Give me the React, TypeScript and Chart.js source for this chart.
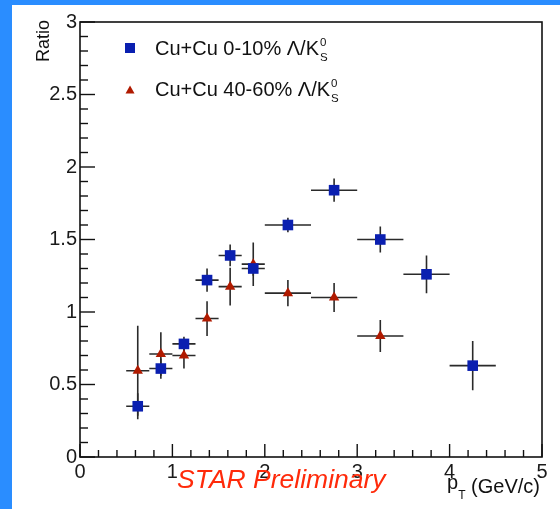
import React, { useEffect, useRef } from "react";
import { Chart, registerables } from "chart.js";

Chart.register(...registerables);

// ---- data ----
const ptCentral = [0.625, 0.875, 1.125, 1.375, 1.625, 1.875, 2.25, 2.75, 3.25, 3.75, 4.25];
const ptErrCentral = [0.125, 0.125, 0.125, 0.125, 0.125, 0.125, 0.25, 0.25, 0.25, 0.25, 0.25];
const ratioCentral = [0.35, 0.61, 0.78, 1.22, 1.39, 1.3, 1.6, 1.84, 1.5, 1.26, 0.63];
const errCentral = [0.09, 0.07, 0.05, 0.08, 0.075, 0.05, 0.05, 0.08, 0.09, 0.13, 0.17];

const ptPeripheral = [0.625, 0.875, 1.125, 1.375, 1.625, 1.875, 2.25, 2.75, 3.25];
const ptErrPeripheral = [0.125, 0.125, 0.125, 0.125, 0.125, 0.125, 0.25, 0.25, 0.25];
const ratioPeripheral = [0.595, 0.71, 0.7, 0.955, 1.175, 1.33, 1.13, 1.1, 0.835];
const errPeripheral = [0.31, 0.15, 0.09, 0.12, 0.13, 0.15, 0.09, 0.1, 0.11];

const xRange = [0, 5];
const yRange = [0, 3];
const legendLabels = ["Cu+Cu 0-10% Λ/K", "Cu+Cu 40-60% Λ/K"];
const xTitle = ["p", "T", " (GeV/c)"];
const yTitle = "Ratio";
const watermark = "STAR Preliminary";

const BLUE = "#0a1fb0";
const RED = "#b01a00";
const FONT = '"Liberation Sans", Arial, Helvetica, sans-serif';

const decor = {
  id: "decor",
  beforeDraw(chart: any) {
    const { ctx, width, height } = chart;
    ctx.save();
    ctx.fillStyle = "#2a8dff";
    ctx.fillRect(0, 0, width, height);
    ctx.fillStyle = "#ffffff";
    ctx.fillRect(12, 5, width - 12, height - 5);
    ctx.restore();
  },
  beforeDatasetsDraw(chart: any) {
    const { ctx } = chart;
    const xs = chart.scales.x;
    const ys = chart.scales.y;
    ctx.save();
    ctx.strokeStyle = "#2a2a2a";
    ctx.lineWidth = 1.6;
    chart.data.datasets.forEach((ds: any) => {
      ds.data.forEach((p: any, i: number) => {
        const xe = ds.xErr[i];
        const ye = ds.yErr[i];
        const px = xs.getPixelForValue(p.x);
        const py = ys.getPixelForValue(p.y);
        ctx.beginPath();
        ctx.moveTo(xs.getPixelForValue(p.x - xe), py);
        ctx.lineTo(xs.getPixelForValue(p.x + xe), py);
        ctx.moveTo(px, ys.getPixelForValue(p.y - ye));
        ctx.lineTo(px, ys.getPixelForValue(p.y + ye));
        ctx.stroke();
      });
    });
    ctx.restore();
  },
  afterDraw(chart: any) {
    const { ctx, chartArea } = chart;
    const { left, right, top, bottom } = chartArea;
    const xs = chart.scales.x;
    const ys = chart.scales.y;
    ctx.save();
    // frame
    ctx.strokeStyle = "#111";
    ctx.lineWidth = 1.6;
    ctx.strokeRect(left, top, right - left, bottom - top);
    ctx.lineWidth = 1.4;
    // y ticks
    for (let i = 0; i <= 30; i++) {
      const v = yRange[0] + i * 0.1;
      const py = ys.getPixelForValue(v);
      const len = i % 5 === 0 ? 15 : 8;
      ctx.beginPath();
      ctx.moveTo(left, py);
      ctx.lineTo(left + len, py);
      ctx.stroke();
    }
    // x ticks
    for (let i = 0; i <= 25; i++) {
      const v = xRange[0] + i * 0.2;
      const px = xs.getPixelForValue(v);
      const len = i % 5 === 0 ? 13 : 7;
      ctx.beginPath();
      ctx.moveTo(px, bottom);
      ctx.lineTo(px, bottom - len);
      ctx.stroke();
    }
    // y title
    ctx.fillStyle = "#111";
    ctx.font = `18px ${FONT}`;
    ctx.save();
    ctx.translate(49, 20);
    ctx.rotate(-Math.PI / 2);
    ctx.textAlign = "right";
    ctx.textBaseline = "alphabetic";
    ctx.fillText(yTitle, 0, 0);
    ctx.restore();
    // x title
    ctx.textBaseline = "alphabetic";
    ctx.textAlign = "left";
    ctx.font = `20px ${FONT}`;
    const rest = xTitle[2];
    const restW = ctx.measureText(rest).width;
    const endX = 540;
    const baseY = 493;
    ctx.font = `12px ${FONT}`;
    const tW = ctx.measureText(xTitle[1]).width;
    ctx.font = `20px ${FONT}`;
    const pW = ctx.measureText(xTitle[0]).width;
    const startX = endX - restW - tW - pW;
    ctx.fillText(xTitle[0], startX, baseY - 4);
    ctx.font = `12px ${FONT}`;
    ctx.fillText(xTitle[1], startX + pW, baseY + 6);
    ctx.font = `20px ${FONT}`;
    ctx.fillText(rest, startX + pW + tW, baseY);
    // watermark
    ctx.fillStyle = "#ff2a0a";
    ctx.font = `italic 26.5px ${FONT}`;
    ctx.textAlign = "left";
    ctx.fillText(watermark, 177, 488);
    // legend
    const rows = [
      { y: 55, color: BLUE, shape: "rect", my: 48 },
      { y: 96, color: RED, shape: "tri", my: 90 },
    ];
    rows.forEach((r, i) => {
      ctx.fillStyle = r.color;
      if (r.shape === "rect") {
        ctx.fillRect(125, r.my - 5, 10, 10);
      } else {
        ctx.beginPath();
        ctx.moveTo(130, r.my - 4.5);
        ctx.lineTo(134.5, r.my + 3.5);
        ctx.lineTo(125.5, r.my + 3.5);
        ctx.closePath();
        ctx.fill();
      }
      ctx.fillStyle = "#111";
      ctx.font = `20px ${FONT}`;
      ctx.textAlign = "left";
      const label = legendLabels[i];
      ctx.fillText(label, 155, r.y);
      const w = ctx.measureText(label).width;
      ctx.font = `11.5px ${FONT}`;
      ctx.fillText("0", 155 + w + 1, r.y - 9);
      ctx.fillText("S", 155 + w + 1, r.y + 6);
    });
    ctx.restore();
  },
};

export default function App() {
  const ref = useRef<HTMLCanvasElement | null>(null);
  useEffect(() => {
    if (!ref.current) return;
    const chart = new Chart(ref.current, {
      type: "scatter",
      data: {
        datasets: [
          {
            label: legendLabels[0],
            data: ptCentral.map((x, i) => ({ x, y: ratioCentral[i] })),
            xErr: ptErrCentral,
            yErr: errCentral,
            pointStyle: "rect",
            pointRadius: 7.5,
            backgroundColor: BLUE,
            borderColor: BLUE,
            borderWidth: 0,
          } as any,
          {
            label: legendLabels[1],
            data: ptPeripheral.map((x, i) => ({ x, y: ratioPeripheral[i] })),
            xErr: ptErrPeripheral,
            yErr: errPeripheral,
            pointStyle: "triangle",
            pointRadius: 6,
            backgroundColor: RED,
            borderColor: RED,
            borderWidth: 0,
          } as any,
        ],
      },
      options: {
        animation: false,
        responsive: false,
        devicePixelRatio: 1,
        layout: { padding: { left: 0, top: 22, right: 18, bottom: 0 } },
        plugins: { legend: { display: false }, tooltip: { enabled: false } },
        events: [],
        scales: {
          x: {
            type: "linear",
            min: xRange[0],
            max: xRange[1],
            grid: { display: false, drawTicks: false },
            border: { display: false },
            ticks: {
              stepSize: 1,
              padding: 3,
              color: "#1a1a1a",
              font: { family: FONT, size: 20 },
              maxRotation: 0,
              callback: (v: any) => String(Number(v)),
            },
            afterFit: (s: any) => {
              s.height = 52;
            },
          },
          y: {
            type: "linear",
            min: yRange[0],
            max: yRange[1],
            grid: { display: false, drawTicks: false },
            border: { display: false },
            ticks: {
              stepSize: 0.5,
              padding: 3,
              color: "#1a1a1a",
              font: { family: FONT, size: 20 },
              callback: (v: any) => String(Number(v)),
            },
            afterFit: (s: any) => {
              s.width = 80;
            },
          },
        },
      } as any,
      plugins: [decor],
    });
    return () => chart.destroy();
  }, []);
  return (
    <div style={{ position: "fixed", left: 0, top: 0, width: 560, height: 509 }}>
      <canvas ref={ref} width={560} height={509} style={{ display: "block" }} />
    </div>
  );
}
